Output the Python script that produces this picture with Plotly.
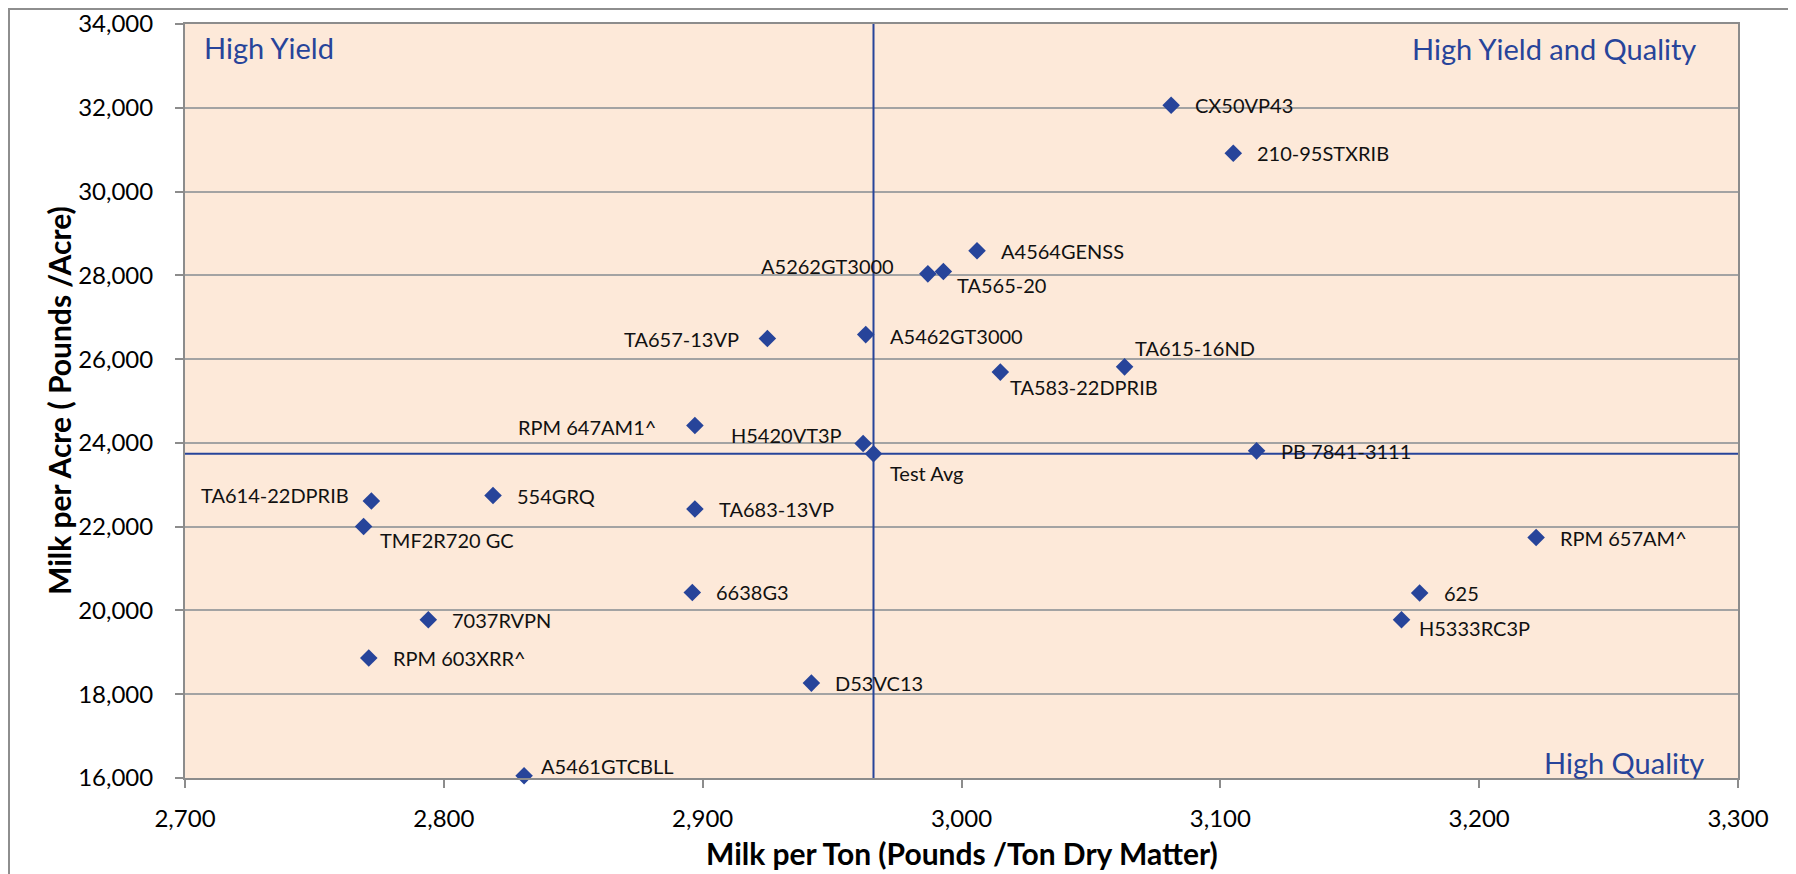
import plotly.graph_objects as go

# ---- data ----
hybrids = ["CX50VP43", "210-95STXRIB", "A4564GENSS", "A5262GT3000", "TA565-20",
           "TA657-13VP", "A5462GT3000", "TA583-22DPRIB", "TA615-16ND", "RPM 647AM1^",
           "H5420VT3P", "Test Avg", "PB 7841-3111", "TA614-22DPRIB", "554GRQ",
           "TA683-13VP", "TMF2R720 GC", "RPM 657AM^", "625", "6638G3",
           "H5333RC3P", "7037RVPN", "RPM 603XRR^", "D53VC13", "A5461GTCBLL"]
milk_per_ton = [3081, 3105, 3006, 2987, 2993,
                2925, 2963, 3015, 3063, 2897,
                2962, 2966, 3114, 2772, 2819,
                2897, 2769, 3222, 3177, 2896,
                3170, 2794, 2771, 2942, 2831]
milk_per_acre = [32060, 30915, 28585, 28035, 28090,
                 26490, 26585, 25690, 25815, 24415,
                 23985, 23740, 23810, 22615, 22745,
                 22420, 22005, 21740, 20415, 20430,
                 19780, 19780, 18865, 18265, 16055]
test_avg_ton = 2966
test_avg_acre = 23740
x_range = [2700, 3300]
y_range = [16000, 34000]
quadrant_labels = ["High Yield", "High Yield and Quality", "High Quality"]
x_title = "Milk per Ton (Pounds /Ton Dry Matter)"
y_title = "Milk per Acre ( Pounds /Acre)"

# ---- label placement (style) : anchor side, x shift px, y shift px (down positive) ----
label_place = {
    "CX50VP43": ("left", 22, 0), "210-95STXRIB": ("left", 22, 0),
    "A4564GENSS": ("left", 22, 0), "A5262GT3000": ("right", -32, -8),
    "TA565-20": ("left", 12, 13), "TA657-13VP": ("right", -26, 0),
    "A5462GT3000": ("left", 22, 1), "TA583-22DPRIB": ("left", 8, 15),
    "TA615-16ND": ("left", 8, -19), "RPM 647AM1^": ("right", -37, 1),
    "H5420VT3P": ("right", -19, -9), "Test Avg": ("left", 14, 19),
    "PB 7841-3111": ("left", 22, 0), "TA614-22DPRIB": ("right", -20, -6),
    "554GRQ": ("left", 22, 1), "TA683-13VP": ("left", 22, 0),
    "TMF2R720 GC": ("left", 14, 14), "RPM 657AM^": ("left", 22, 0),
    "625": ("left", 22, 0), "6638G3": ("left", 22, 0),
    "H5333RC3P": ("left", 15, 8), "7037RVPN": ("left", 22, 0),
    "RPM 603XRR^": ("left", 22, 0), "D53VC13": ("left", 22, 0),
    "A5461GTCBLL": ("left", 15, -10),
}

BLUE = "#27449A"
FONT = "Lato"
# the page body has an 8px default margin, so the figure is shifted by 8px
W, H = 1788, 866
ML, MT = 177, 16
PW, PH = 1553, 754
MR = W - ML - PW
MB = H - MT - PH

fig = go.Figure()
# average lines
fig.add_trace(go.Scatter(x=[test_avg_ton, test_avg_ton], y=y_range, mode="lines",
                         line=dict(color=BLUE, width=2), hoverinfo="skip", showlegend=False))
fig.add_trace(go.Scatter(x=x_range, y=[test_avg_acre, test_avg_acre], mode="lines",
                         line=dict(color=BLUE, width=2), hoverinfo="skip", showlegend=False))
# points
fig.add_trace(go.Scatter(x=milk_per_ton, y=milk_per_acre, mode="markers", text=hybrids,
                         marker=dict(symbol="diamond", size=13.5, color=BLUE, line=dict(width=0)),
                         cliponaxis=False, showlegend=False))

annotations = []
for name, xv, yv in zip(hybrids, milk_per_ton, milk_per_acre):
    side, dx, dy = label_place[name]
    annotations.append(dict(x=xv, y=yv, xref="x", yref="y", text=name, showarrow=False,
                            xanchor=side, yanchor="middle", xshift=dx, yshift=-dy,
                            font=dict(family=FONT, size=20, color="#111111")))

# quadrant labels
annotations.append(dict(x=0, y=1, xref="paper", yref="paper", text=quadrant_labels[0],
                        showarrow=False, xanchor="left", yanchor="middle",
                        xshift=17, yshift=-23, font=dict(family=FONT, size=29, color=BLUE)))
annotations.append(dict(x=1, y=1, xref="paper", yref="paper", text=quadrant_labels[1],
                        showarrow=False, xanchor="right", yanchor="middle",
                        xshift=-40, yshift=-24, font=dict(family=FONT, size=29, color=BLUE)))
annotations.append(dict(x=1, y=0, xref="paper", yref="paper", text=quadrant_labels[2],
                        showarrow=False, xanchor="right", yanchor="middle",
                        xshift=-32, yshift=16, font=dict(family=FONT, size=29, color=BLUE)))
# axis titles
annotations.append(dict(x=0.5, y=0, xref="paper", yref="paper", text="<b>" + x_title + "</b>",
                        showarrow=False, xanchor="center", yanchor="middle",
                        xshift=0, yshift=-75, font=dict(family=FONT, size=30, color="#000000")))
annotations.append(dict(x=0, y=0.5, xref="paper", yref="paper", text="<b>" + y_title + "</b>",
                        showarrow=False, xanchor="center", yanchor="middle", textangle=-90,
                        xshift=-126, yshift=0, font=dict(family=FONT, size=30, color="#000000")))

# outer chart border
shapes = [dict(type="rect", xref="paper", yref="paper",
               x0=(1 - ML) / PW, x1=(1786 - ML) / PW,
               y0=(H - MB - 890) / PH, y1=(H - MB - 1) / PH,
               line=dict(color="#8E8E8E", width=2), fillcolor="rgba(0,0,0,0)", layer="below")]

fig.update_layout(
    template="none",
    width=W, height=H,
    margin=dict(l=ML, r=MR, t=MT, b=MB, autoexpand=False),
    paper_bgcolor="white", plot_bgcolor="#FDE9D9",
    font=dict(family=FONT, size=24, color="#000000"),
    annotations=annotations, shapes=shapes, showlegend=False,
)
fig.update_xaxes(range=x_range, dtick=100, tickformat=",", showgrid=False, automargin=False,
                 showline=True, linecolor="#8C8C8C", linewidth=2, mirror=True,
                 ticks="outside", ticklen=8, tickwidth=1.5, tickcolor="#8C8C8C",
                 ticklabelstandoff=10, zeroline=False, tickfont=dict(family=FONT, size=24))
fig.update_yaxes(range=y_range, dtick=2000, tickformat=",", showgrid=True, automargin=False,
                 gridcolor="#A3A3A3", gridwidth=1.5,
                 showline=True, linecolor="#8C8C8C", linewidth=2, mirror=True,
                 ticks="outside", ticklen=8, tickwidth=1.5, tickcolor="#8C8C8C",
                 ticklabelstandoff=17, zeroline=False, tickfont=dict(family=FONT, size=24))

fig.write_html("out.html")
